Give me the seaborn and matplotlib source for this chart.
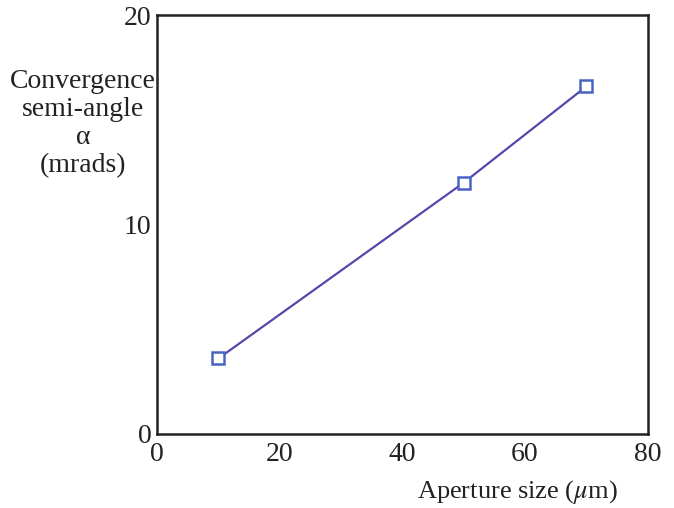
import pandas as pd
import matplotlib
matplotlib.use('Agg')
import matplotlib.pyplot as plt
import seaborn as sns

aperture = [10, 50, 70]
alpha_mrad = [3.6, 12.0, 16.6]
x_ticks = [0, 20, 40, 60, 80]
y_ticks = [0, 10, 20]

sns.set_style('white')
plt.rcParams['font.family'] = ['Liberation Serif', 'DejaVu Serif']
plt.rcParams['mathtext.fontset'] = 'stix'

df = pd.DataFrame({'aperture': aperture, 'alpha': alpha_mrad})

fig = plt.figure(figsize=(6.74, 5.08), dpi=100)
ax = fig.add_axes([0.233, 0.146, 0.728, 0.824])

sns.lineplot(data=df, x='aperture', y='alpha', ax=ax, color='#5548ad',
             linewidth=1.6, marker='s', markersize=9, markerfacecolor='white',
             markeredgecolor='#4a62c4', markeredgewidth=1.8)

ax.set_xlim(0, 80)
ax.set_ylim(0, 20)
ax.set_xticks(x_ticks)
ax.set_yticks(y_ticks)
ax.tick_params(axis='both', direction='in', length=12, width=1.6,
               labelsize=20, colors='#222222', pad=4)
ax.tick_params(axis='x', pad=6)
for s in ax.spines.values():
    s.set_visible(True)
    s.set_linewidth(1.8)
    s.set_color('#222222')

ax.set_xlabel('Aperture size ($\\mu$m)', fontsize=19, color='#222222')
ax.xaxis.set_label_coords(0.735, -0.105)
ax.set_ylabel('')
fig.text(0.123, 0.757, 'Convergence\nsemi-angle\n\u03b1\n(mrads)', ha='center',
         va='center', fontsize=20, color='#222222', linespacing=1.15)

fig.savefig('out.png', dpi=100)
